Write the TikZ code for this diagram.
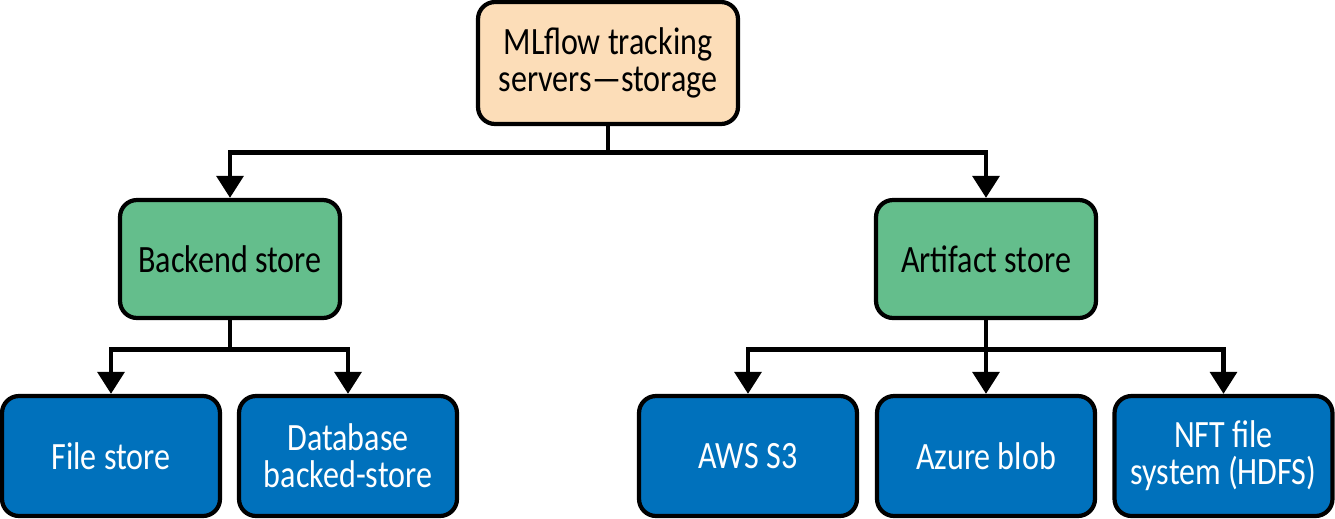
\documentclass[tikz,border=0pt]{standalone}
\usepackage{fontspec}
\setmainfont{Carlito}[FakeStretch=0.83]
\usetikzlibrary{arrows.meta}

\definecolor{peach}{RGB}{252,221,184}
\definecolor{storegreen}{RGB}{100,190,140}
\definecolor{storeblue}{RGB}{0,113,188}

\tikzset{
  box/.style={rectangle, draw, line width=2.4pt, rounded corners=0.34cm,
      align=center, inner sep=0pt,
      font=\fontsize{22}{21}\selectfont},
  topbox/.style={box, fill=peach, minimum width=5.2cm, minimum height=2.44cm},
  midbox/.style={box, fill=storegreen, minimum width=4.4cm, minimum height=2.36cm},
  leafbox/.style={box, fill=storeblue, text=white,
      minimum width=4.36cm, minimum height=2.4cm},
  link/.style={line width=2.8pt, -{Triangle[width=15pt, length=12.5pt]}}
}

\begin{document}
\begin{tikzpicture}[x=0.02cm, y=-0.02cm]
\useasboundingbox (0,0) rectangle (1335,518);

\node[topbox] (tracking) at (608, 63) {MLflow tracking\\servers---storage};

\node[midbox] (backend) at (230, 259) {Backend store};
\node[midbox] (artifact) at (986, 259) {Artifact store};

\node[leafbox] (file) at (111, 456) {File store};
\node[leafbox] (database) at (348, 456) {Database\\backed-store};
\node[leafbox] (aws) at (748, 456) {AWS S3};
\node[leafbox] (azure) at (986, 456) {Azure blob};
\node[leafbox] (nft) at (1223.5, 456) {NFT file\\system (HDFS)};

% tracking server to the two stores
\draw[link] (tracking.south) -- ++(0, 26) -| (backend.north);
\draw[link] (tracking.south) -- ++(0, 26) -| (artifact.north);

% backend store options
\draw[link] (backend.south) -- ++(0, 29) -| (file.north);
\draw[link] (backend.south) -- ++(0, 29) -| (database.north);

% artifact store options
\draw[link] (artifact.south) -- ++(0, 29) -| (aws.north);
\draw[link] (artifact.south) -- (azure.north);
\draw[link] (artifact.south) -- ++(0, 29) -| (nft.north);

\end{tikzpicture}
\end{document}
